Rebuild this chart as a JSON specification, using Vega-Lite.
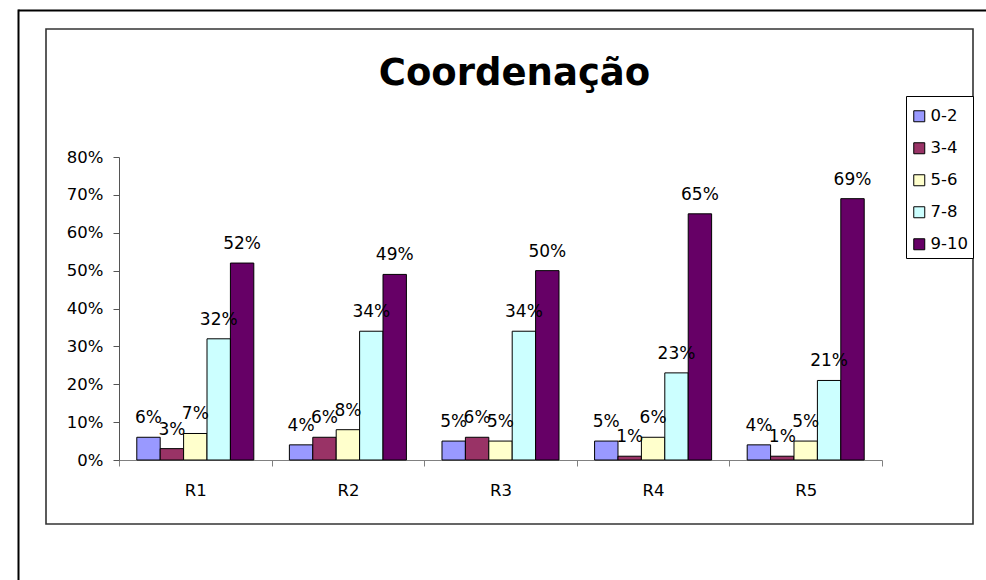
{
  "$schema": "https://vega.github.io/schema/vega-lite/v6.json",
  "width": 927,
  "height": 495,
  "autosize": {"type": "none"},
  "padding": {"left": 46, "top": 29, "right": 13, "bottom": 56},
  "background": "white",
  "config": {
    "view": {"stroke": "#333333", "strokeWidth": 1.6},
    "font": "DejaVu Sans"
  },
  "title": {
    "text": "Coordenação",
    "font": "DejaVu Sans",
    "fontSize": 37,
    "fontWeight": "bold",
    "color": "black",
    "anchor": "middle",
    "frame": "group",
    "offset": -112,
    "baseline": "alphabetic",
    "dx": 5
  },
  "data": {
    "values": [
      {"round": "R1", "grade": "0-2", "pct": 0.06},
      {"round": "R1", "grade": "3-4", "pct": 0.03},
      {"round": "R1", "grade": "5-6", "pct": 0.07},
      {"round": "R1", "grade": "7-8", "pct": 0.32},
      {"round": "R1", "grade": "9-10", "pct": 0.52},
      {"round": "R2", "grade": "0-2", "pct": 0.04},
      {"round": "R2", "grade": "3-4", "pct": 0.06},
      {"round": "R2", "grade": "5-6", "pct": 0.08},
      {"round": "R2", "grade": "7-8", "pct": 0.34},
      {"round": "R2", "grade": "9-10", "pct": 0.49},
      {"round": "R3", "grade": "0-2", "pct": 0.05},
      {"round": "R3", "grade": "3-4", "pct": 0.06},
      {"round": "R3", "grade": "5-6", "pct": 0.05},
      {"round": "R3", "grade": "7-8", "pct": 0.34},
      {"round": "R3", "grade": "9-10", "pct": 0.50},
      {"round": "R4", "grade": "0-2", "pct": 0.05},
      {"round": "R4", "grade": "3-4", "pct": 0.01},
      {"round": "R4", "grade": "5-6", "pct": 0.06},
      {"round": "R4", "grade": "7-8", "pct": 0.23},
      {"round": "R4", "grade": "9-10", "pct": 0.65},
      {"round": "R5", "grade": "0-2", "pct": 0.04},
      {"round": "R5", "grade": "3-4", "pct": 0.01},
      {"round": "R5", "grade": "5-6", "pct": 0.05},
      {"round": "R5", "grade": "7-8", "pct": 0.21},
      {"round": "R5", "grade": "9-10", "pct": 0.69}
    ]
  },
  "layer": [
    {
      "encoding": {
        "x": {
          "field": "round",
          "type": "nominal",
          "scale": {"range": [73, 836], "paddingInner": 0, "paddingOuter": 0},
          "axis": {
            "orient": "bottom",
            "offset": -64,
            "title": null,
            "labelAngle": 0,
            "tickBand": "extent",
            "domainColor": "#808080",
            "tickColor": "#808080",
            "tickSize": 6,
            "labelFont": "DejaVu Sans",
            "labelFontSize": 16.5,
            "labelColor": "black",
            "labelBaseline": "alphabetic",
            "labelPadding": 29,
            "grid": false
          }
        },
        "xOffset": {
          "field": "grade",
          "type": "nominal",
          "sort": ["0-2", "3-4", "5-6", "7-8", "9-10"],
          "scale": {"paddingInner": 0, "paddingOuter": 0.76}
        },
        "y": {
          "field": "pct",
          "type": "quantitative",
          "scale": {"domain": [0, 0.8], "range": [431, 128], "nice": false, "zero": true},
          "axis": {
            "orient": "left",
            "offset": -73,
            "title": null,
            "values": [0, 0.1, 0.2, 0.3, 0.4, 0.5, 0.6, 0.7, 0.8],
            "format": ".0%",
            "grid": false,
            "domainColor": "#555555",
            "tickColor": "#555555",
            "tickSize": 6,
            "labelFont": "DejaVu Sans",
            "labelFontSize": 16.5,
            "labelColor": "black",
            "labelPadding": 10
          }
        }
      },
      "layer": [
        {
          "mark": {"type": "bar", "stroke": "black", "strokeWidth": 1},
          "encoding": {
            "color": {
              "field": "grade",
              "type": "nominal",
              "sort": ["0-2", "3-4", "5-6", "7-8", "9-10"],
              "scale": {
                "domain": ["0-2", "3-4", "5-6", "7-8", "9-10"],
                "range": ["#9999FF", "#993366", "#FFFFCC", "#CCFFFF", "#660066"]
              },
              "legend": {
                "orient": "none",
                "legendX": 860,
                "legendY": 67,
                "title": " ",
                "titleFontSize": 7,
                "titlePadding": 0,
                "symbolType": "square",
                "symbolSize": 121,
                "symbolStrokeColor": "black",
                "symbolStrokeWidth": 1,
                "symbolOpacity": 1,
                "labelFont": "DejaVu Sans",
                "labelFontSize": 16.5,
                "labelColor": "black",
                "labelOffset": 3,
                "rowPadding": 15,
                "padding": 5,
                "strokeColor": "black",
                "fillColor": "white"
              }
            }
          }
        },
        {
          "mark": {
            "type": "text",
            "baseline": "alphabetic",
            "dy": -14,
            "font": "DejaVu Sans",
            "fontSize": 17,
            "color": "black"
          },
          "encoding": {
            "text": {"field": "pct", "type": "quantitative", "format": ".0%"}
          }
        }
      ]
    },
    {
      "mark": {"type": "point", "opacity": 0},
      "encoding": {
        "x": {
          "field": "pct",
          "type": "quantitative",
          "scale": {"domain": [0, 1], "range": [-28, 960], "nice": false, "zero": false},
          "axis": {
            "orient": "top",
            "offset": 19,
            "labels": false,
            "ticks": false,
            "title": null,
            "grid": false,
            "domainColor": "black",
            "domainWidth": 2
          }
        },
        "y": {
          "field": "pct",
          "type": "quantitative",
          "scale": {"domain": [0, 1], "range": [560, -20], "nice": false, "zero": false},
          "axis": {
            "orient": "left",
            "offset": 28,
            "labels": false,
            "ticks": false,
            "title": null,
            "grid": false,
            "domainColor": "black",
            "domainWidth": 2
          }
        }
      }
    }
  ],
  "resolve": {"scale": {"x": "independent", "y": "independent"}, "axis": {"x": "independent", "y": "independent"}}
}
